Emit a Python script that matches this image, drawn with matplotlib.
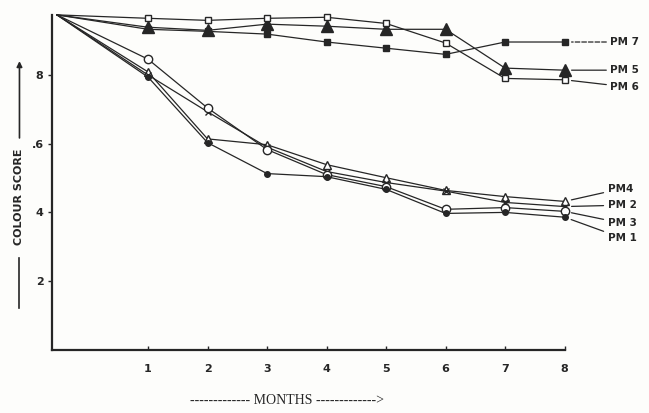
import matplotlib.pyplot as plt
import numpy as np

months = [0, 1, 2, 3, 4, 5, 6, 7, 8]

pm1 = [9.75, 7.94, 6.03, 5.13, 5.04, 4.67, 3.97, 4.00, 3.86]
pm2 = [9.75, 8.00, 6.93, 5.90, 5.19, 4.87, 4.62, 4.29, 4.17]
pm3 = [9.75, 8.46, 7.04, 5.83, 5.10, 4.75, 4.09, 4.14, 4.03]
pm4 = [9.75, 8.09, 6.14, 5.97, 5.39, 5.01, 4.64, 4.46, 4.32]
pm5 = [9.75, 9.39, 9.30, 9.48, 9.42, 9.33, 9.33, 8.20, 8.14]
pm6 = [9.75, 9.65, 9.59, 9.65, 9.68, 9.50, 8.93, 7.90, 7.86]
pm7 = [9.75, 9.33, 9.27, 9.19, 8.96, 8.78, 8.60, 8.96, 8.96]

x_ticks = [1, 2, 3, 4, 5, 6, 7, 8]
y_ticks = [2, 4, 6, 8]
y_ticklabels = ['2', '4', '.6', '8']

ink = '#262626'

# first month interval is drawn wider than the others on the original
k = 1.53
def fwd(x):
    x = np.asarray(x, dtype=float)
    return np.where(x < 1, x * k, x - 1 + k)

def inv(s):
    s = np.asarray(s, dtype=float)
    return np.where(s < k, s / k, s + 1 - k)

fig = plt.figure(figsize=(6.49, 4.13), dpi=100)
fig.patch.set_facecolor('#fdfdfb')
ax = fig.add_axes([0.080, 0.153, 0.790, 0.811])
ax.set_facecolor('#fdfdfb')
ax.set_xscale('function', functions=(fwd, inv))
ax.set_xlim(-0.055, 8)
ax.set_ylim(0, 9.75)

series = [
    ('PM 7', pm7, dict(marker='s', ms=4, mfc=ink), (33, 0), '--'),
    ('PM 5', pm5, dict(marker='^', ms=8, mfc=ink), (33, 0), '-'),
    ('PM 6', pm6, dict(marker='s', ms=4, mfc='white'), (33, -5), '-'),
    ('PM4', pm4, dict(marker='^', ms=6, mfc='white'), (31, 9), '-'),
    ('PM 2', pm2, dict(marker='x', ms=4, mfc=ink), (31, 1), '-'),
    ('PM 3', pm3, dict(marker='o', ms=6, mfc='white'), (31, -8.5), '-'),
    ('PM 1', pm1, dict(marker='o', ms=4, mfc=ink), (31, -15), '-'),
]

for name, vals, mk, off, ls in series:
    ax.plot(months[1:], vals[1:], color=ink, lw=0.9, mec=ink, mew=1.0,
            clip_on=False, zorder=3, **mk)
    ax.plot(months[:2], vals[:2], color=ink, lw=0.9, clip_on=False, zorder=2)
    ax.annotate(name, xy=(months[-1], vals[-1]), xytext=off,
                textcoords='offset points', ha='left', va='center',
                fontsize=7.5, fontweight='bold', color=ink,
                arrowprops=dict(arrowstyle='-', color=ink, lw=0.9, ls=ls,
                                shrinkA=1, shrinkB=5))

for s in ['top', 'right']:
    ax.spines[s].set_visible(False)
for s in ['left', 'bottom']:
    ax.spines[s].set_linewidth(1.6)
    ax.spines[s].set_color(ink)

ax.set_xticks(x_ticks)
ax.set_xticklabels([str(t) for t in x_ticks])
ax.set_yticks(y_ticks)
ax.set_yticklabels(y_ticklabels)
ax.xaxis.set_minor_locator(plt.NullLocator())
ax.tick_params(axis='x', direction='in', length=3, width=1, colors=ink,
               labelsize=8, pad=10)
ax.tick_params(axis='y', direction='out', length=3, width=1, colors=ink,
               labelsize=8, pad=3)
for lab in ax.get_xticklabels() + ax.get_yticklabels():
    lab.set_fontweight('bold')

# y axis title: line below, text, arrow above
fig.text(0.030, 0.523, 'COLOUR SCORE', rotation=90, ha='center', va='center',
         fontsize=8, fontweight='bold', color=ink)
fig.add_artist(plt.Line2D([0.030, 0.030], [0.254, 0.375], color=ink,
                          lw=1.2, transform=fig.transFigure))
ax.annotate('', xy=(0.030, 0.852), xytext=(0.030, 0.666),
            xycoords='figure fraction', textcoords='figure fraction',
            arrowprops=dict(arrowstyle='-|>', color=ink, lw=1.2,
                            mutation_scale=8, shrinkA=0, shrinkB=0))

fig.text(0.442, 0.03, '------------- MONTHS ------------->', ha='center',
         va='center', fontsize=10, family='Liberation Serif', color=ink)

plt.savefig('out.png', dpi=100, facecolor=fig.get_facecolor())
